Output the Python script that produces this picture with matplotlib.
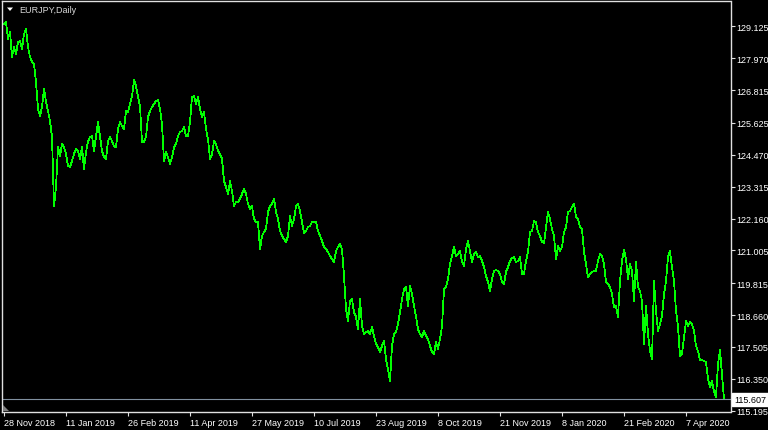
import matplotlib
matplotlib.use("Agg")
import matplotlib.pyplot as plt
from matplotlib.patches import Polygon
from matplotlib.transforms import blended_transform_factory

plt.rcParams["font.family"] = ["Liberation Sans", "DejaVu Sans"]

# ---------------- data ----------------
symbol_title = "EURJPY,Daily"

close = [
    129.22, 129.28, 128.67, 128.93, 128.02, 128.38, 128.13, 128.56, 128.60, 128.31,
    128.85, 129.03, 128.38, 128.02, 127.84, 127.76, 127.11, 126.13, 125.88, 126.21,
    126.86, 126.39, 126.06, 125.70, 125.12, 122.61, 123.30, 124.75, 124.43, 124.86,
    124.75, 124.50, 124.07, 124.03, 124.25, 124.50, 124.68, 124.61, 124.32, 124.75,
    123.96, 124.57, 124.94, 125.12, 125.15, 124.61, 125.15, 125.66, 125.12, 124.61,
    124.39, 124.32, 124.97, 125.12, 124.97, 124.79, 124.75, 125.41, 125.66, 125.52,
    125.41, 126.06, 126.02, 126.31, 126.60, 127.18, 126.97, 126.57, 126.24, 124.94,
    124.94, 125.12, 125.84, 126.06, 126.21, 126.31, 126.42, 126.46, 126.13, 125.59,
    124.25, 124.57, 124.39, 124.14, 124.39, 124.75, 124.86, 125.15, 125.30, 125.33,
    125.48, 125.15, 125.15, 125.66, 126.57, 126.60, 126.31, 126.57, 126.13, 125.84,
    126.02, 125.41, 125.04, 124.32, 124.50, 124.97, 124.86, 124.61, 124.50, 124.32,
    123.52, 123.30, 123.05, 123.52, 123.16, 122.61, 122.76, 122.76, 122.87, 123.05,
    123.23, 123.05, 122.69, 122.51, 122.61, 122.14, 122.03, 122.03, 121.05, 121.53,
    121.67, 121.78, 122.40, 122.61, 122.69, 122.87, 122.40, 122.14, 121.71, 121.53,
    121.42, 121.31, 121.53, 122.25, 121.89, 122.14, 122.61, 122.69, 122.43, 122.03,
    121.64, 121.71, 121.85, 121.89, 122.03, 122.03, 122.03, 121.71, 121.53, 121.35,
    121.13, 121.05, 120.95, 120.80, 120.69, 120.58, 120.98, 121.13, 121.24, 121.05,
    120.08, 118.88, 118.44, 119.17, 119.24, 118.77, 118.59, 118.15, 119.24, 118.26,
    117.97, 118.04, 118.08, 117.97, 118.23, 117.90, 117.61, 117.50, 117.32, 117.54,
    117.72, 117.06, 116.70, 116.27, 117.54, 117.97, 118.04, 118.33, 118.77, 119.24,
    119.60, 119.68, 118.99, 119.71, 119.42, 118.99, 118.62, 118.15, 117.97, 117.86,
    118.08, 117.90, 117.79, 117.54, 117.32, 117.25, 117.68, 117.43, 117.79, 118.26,
    119.60, 119.68, 119.97, 120.51, 120.80, 121.13, 120.80, 120.87, 120.98, 120.58,
    120.44, 121.05, 121.35, 120.98, 120.58, 120.87, 120.95, 120.76, 120.80, 120.62,
    120.40, 120.08, 119.86, 119.53, 119.97, 120.26, 120.29, 120.26, 120.15, 119.86,
    119.79, 120.22, 120.40, 120.62, 120.73, 120.76, 120.58, 120.62, 120.76, 120.15,
    120.15, 120.62, 120.95, 121.67, 121.71, 122.07, 122.03, 121.67, 121.53, 121.31,
    121.27, 121.85, 122.40, 122.14, 121.78, 121.53, 120.69, 121.16, 120.98, 121.13,
    121.67, 121.85, 122.40, 122.43, 122.58, 122.69, 122.22, 122.14, 121.85, 121.78,
    120.95, 120.51, 120.04, 120.15, 120.22, 120.26, 120.26, 120.62, 120.87, 120.80,
    120.51, 119.86, 119.79, 119.68, 119.42, 118.95, 118.99, 118.59, 119.89, 120.62,
    121.02, 120.69, 119.97, 120.51, 120.26, 119.17, 120.58, 119.68, 119.53, 119.17,
    117.61, 118.99, 117.97, 117.35, 117.06, 119.89, 118.81, 118.08, 118.33, 118.62,
    119.42, 119.89, 120.76, 120.98, 120.40, 119.89, 118.81, 118.23, 117.17, 117.25,
    117.86, 118.44, 118.26, 118.41, 118.33, 118.08, 117.54, 117.35, 117.03, 117.03,
    116.99, 116.96, 116.34, 116.05, 116.27, 115.90, 115.69, 116.88, 117.39, 116.52,
    115.607,
]
bar_index = list(range(len(close)))

x_tick_bars = [0, 31, 62, 93, 124, 155, 186, 217, 248, 279, 310, 341]
x_tick_labels = ["28 Nov 2018", "11 Jan 2019", "26 Feb 2019", "11 Apr 2019",
                 "27 May 2019", "10 Jul 2019", "23 Aug 2019", "8 Oct 2019",
                 "21 Nov 2019", "8 Jan 2020", "21 Feb 2020", "7 Apr 2020"]
y_ticks = [129.125, 127.970, 126.815, 125.625, 124.470, 123.315, 122.160,
           121.005, 119.815, 118.660, 117.505, 116.350, 115.195]
last_price = 115.607

# ---------------- figure ----------------
W, H = 768, 431
fig = plt.figure(figsize=(W / 100, H / 100), dpi=100, facecolor="black")
left_px, right_px, top_px, bottom_px = 1.5, 730.5, 1.5, 413.0
ax = fig.add_axes([left_px / W, (H - bottom_px) / H,
                   (right_px - left_px) / W, (bottom_px - top_px) / H])
ax.set_facecolor("black")

ax.plot(bar_index, close, color="#00FF00", lw=0.55, antialiased=False)
ax.axhline(last_price, color="#8090A0", lw=0.8)

ax.set_xlim(-1.25, 363.25)
ax.set_ylim(115.143, 130.068)

for s in ax.spines.values():
    s.set_color("#E0E0E0")
    s.set_linewidth(1.0)

fs = 6.5
ax.yaxis.tick_right()
ax.set_yticks(y_ticks)
ax.set_yticklabels([f"{v:.3f}" for v in y_ticks])
ax.tick_params(axis="y", colors="#E0E0E0", direction="out", length=3,
               width=0.8, pad=1.2, labelsize=fs, labelcolor="white")
ax.set_xticks(x_tick_bars)
ax.set_xticklabels(x_tick_labels)
ax.tick_params(axis="x", colors="#E0E0E0", direction="out", length=3,
               width=0.8, pad=1.0, labelsize=fs, labelcolor="white")
for lbl in ax.get_xticklabels():
    lbl.set_ha("left")

# current price box on the right axis
tr = blended_transform_factory(ax.transAxes, ax.transData)
ax.annotate(f"{last_price:.3f}", xy=(1.0, last_price), xycoords=tr,
            xytext=(2.5, 0), textcoords="offset points", ha="left", va="center",
            fontsize=fs, color="black", annotation_clip=False,
            bbox=dict(boxstyle="square,pad=0.2", facecolor="white",
                      edgecolor="white"))

# title with triangle marker
fig.text(19 / W, 1 - 10.5 / H, symbol_title, color="#D8D8D8", fontsize=6.5,
         ha="left", va="center")
tri = Polygon([(7 / W, 1 - 8.5 / H), (13 / W, 1 - 8.5 / H), (10 / W, 1 - 12 / H)],
              closed=True, transform=fig.transFigure, facecolor="white",
              edgecolor="none")
fig.patches.append(tri)
corner = Polygon([(3 / W, 1 - 406 / H), (3 / W, 1 - 412 / H), (9 / W, 1 - 412 / H)],
                 closed=True, transform=fig.transFigure, facecolor="#808080",
                 edgecolor="none")
fig.patches.append(corner)

fig.savefig("out.png", dpi=100, facecolor="black")
